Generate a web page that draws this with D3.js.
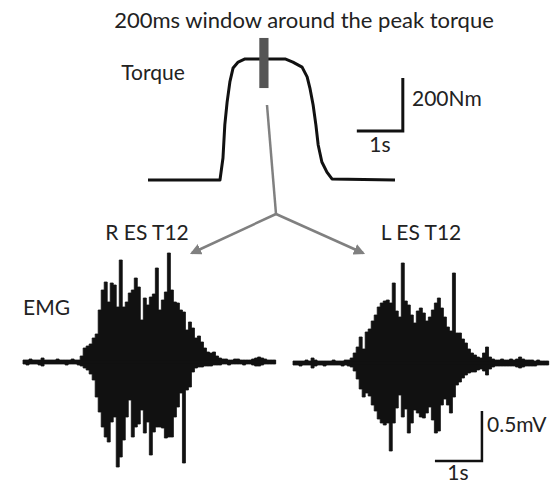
<!DOCTYPE html>
<html>
<head>
<meta charset="utf-8">
<script src="https://cdn.jsdelivr.net/npm/d3@7"></script>
<style>
  body { margin: 0; background: #fff; }
  text { font-family: Lato, "Open Sans", sans-serif; fill: #222; }
</style>
</head>
<body>
<div id="chart"></div>
<script>
// torque trace (time in s, torque in Nm)
var torqueTime = [0, 1.565, 1.63, 1.67, 1.72, 1.78, 1.85, 1.96, 2.11, 2.65, 2.98, 3.15, 3.35, 3.46, 3.52, 3.59, 3.65, 3.70, 3.78, 3.89, 4.00, 5.37];
var torqueNm   = [0, 0, 83, 208, 294, 370, 423, 445, 457, 457, 457, 445, 426, 389, 347, 283, 208, 132, 68, 30, 4, 0];
// 200ms window around the peak
var windowCenter = 2.52;
var windowLength = 0.2;

// EMG envelopes, mV, one value per sample
var emgDt = 0.064;
var rUpper = [0.02,0.02,0.03,0.02,0.02,0.02,0.04,0.02,0.02,0.02,0.02,0.03,0.02,0.02,0.02,0.02,0.03,0.02,0.02,0.06,
              0.14,0.16,0.18,0.24,0.28,0.52,0.72,0.80,0.60,0.79,
              0.77,0.55,1.02,0.55,0.60,0.69,0.72,0.84,0.75,0.42,
              0.64,0.57,0.65,0.68,0.94,0.52,0.62,0.70,1.09,0.72,
              0.60,0.59,0.52,0.50,0.32,0.40,0.34,0.24,0.26,0.20,
              0.14,0.10,0.09,0.10,0.06,0.04,0.03,0.03,0.02,0.02,
              0.03,0.03,0.02,0.02,0.02,0.02,0.03,0.04,0.05,0.04,
              0.03,0.02,0.02,0.02];
var rLower = [0.02,0.03,0.02,0.02,0.02,0.03,0.04,0.02,0.02,0.02,0.02,0.02,0.02,0.02,0.03,0.02,0.02,0.02,0.03,0.04,
              0.06,0.08,0.12,0.18,0.35,0.50,0.65,0.75,0.80,0.60,
              0.55,1.05,0.95,0.78,0.55,0.38,0.75,0.65,0.62,0.48,
              0.71,0.60,0.93,0.70,0.65,0.65,0.66,0.76,0.75,0.75,
              0.55,0.45,0.31,1.01,0.28,0.25,0.10,0.06,0.05,0.05,
              0.04,0.04,0.04,0.03,0.03,0.03,0.02,0.02,0.03,0.02,
              0.02,0.02,0.02,0.03,0.02,0.02,0.03,0.04,0.04,0.03,
              0.02,0.02,0.02,0.02];
var lUpper = [0.02,0.02,0.02,0.02,0.03,0.02,0.05,0.03,0.02,0.02,0.02,0.02,0.02,0.03,0.02,0.02,0.02,0.03,0.03,0.05,
              0.10,0.16,0.26,0.14,0.31,0.34,0.42,0.48,0.56,0.60,
              0.62,0.63,0.60,0.80,0.52,0.46,1.00,0.62,0.58,0.48,
              0.40,0.52,0.55,0.50,0.42,0.46,0.53,0.60,0.65,0.55,
              0.46,0.36,0.32,0.90,0.30,0.30,0.24,0.20,0.14,0.10,
              0.08,0.06,0.05,0.10,0.16,0.06,0.04,0.03,0.03,0.04,
              0.03,0.03,0.04,0.03,0.04,0.06,0.04,0.03,0.03,0.03,
              0.02,0.03,0.02,0.02,0.02];
var lLower = [0.02,0.02,0.03,0.02,0.02,0.02,0.05,0.03,0.02,0.02,0.03,0.02,0.02,0.02,0.02,0.02,0.03,0.02,0.03,0.04,
              0.08,0.16,0.26,0.34,0.30,0.33,0.42,0.48,0.56,0.60,
              0.62,0.60,0.88,0.60,0.45,0.32,0.54,0.46,0.70,0.60,
              0.47,0.50,0.54,0.55,0.50,0.44,0.57,0.70,0.68,0.42,
              0.36,0.42,0.50,0.34,0.22,0.19,0.15,0.12,0.10,0.09,
              0.09,0.07,0.06,0.08,0.12,0.06,0.04,0.03,0.03,0.03,
              0.03,0.03,0.03,0.03,0.04,0.05,0.04,0.03,0.03,0.03,
              0.03,0.02,0.02,0.02,0.02];

var w = 551, h = 484;
var ink = "#111", grey = "#808080";

var svg = d3.select("#chart").append("svg")
            .attr("width", w)
            .attr("height", h);

// ---- torque ----
var xT = d3.scaleLinear().domain([0, 5.37]).range([148, 395]);
var yT = d3.scaleLinear().domain([0, 200]).range([180, 127]);

var torqueLine = d3.line()
                   .x(function(d) { return xT(d[0]); })
                   .y(function(d) { return yT(d[1]); });

svg.append("path")
   .datum(d3.zip(torqueTime, torqueNm))
   .attr("d", torqueLine)
   .attr("fill", "none")
   .attr("stroke", ink)
   .attr("stroke-width", 3)
   .attr("stroke-linejoin", "round");

svg.append("rect")
   .attr("x", xT(windowCenter - windowLength / 2))
   .attr("width", xT(windowLength) - xT(0))
   .attr("y", yT(536))
   .attr("height", yT(347) - yT(536))
   .attr("fill", "#555");

// torque scale bar: 1s x 200Nm
var tbT = 5.54, tbN = 185;
svg.append("path")
   .attr("d", "M" + xT(tbT - 1) + "," + yT(tbN) + "H" + xT(tbT) + "V" + yT(tbN + 200))
   .attr("fill", "none")
   .attr("stroke", ink)
   .attr("stroke-width", 3);

// ---- arrows ----
var defs = svg.append("defs");
defs.append("marker")
    .attr("id", "head")
    .attr("viewBox", "0 0 10 10")
    .attr("refX", 8).attr("refY", 5)
    .attr("markerWidth", 4.5).attr("markerHeight", 4.5)
    .attr("markerUnits", "strokeWidth")
    .attr("orient", "auto")
    .append("path")
    .attr("d", "M0,0L10,5L0,10z")
    .attr("fill", grey);

var junction = [276, 214];
svg.append("line")
   .attr("x1", 267).attr("y1", 105)
   .attr("x2", junction[0]).attr("y2", junction[1])
   .attr("stroke", grey).attr("stroke-width", 2.5);
[[192, 253], [363, 253]].forEach(function(p) {
  svg.append("line")
     .attr("x1", junction[0]).attr("y1", junction[1])
     .attr("x2", p[0]).attr("y2", p[1])
     .attr("stroke", grey).attr("stroke-width", 2.5)
     .attr("marker-end", "url(#head)");
});

// ---- EMG ----
var yE = d3.scaleLinear().domain([-1, 1]).range([462, 262]);

function drawEmg(upper, lower, x0, baseY) {
  var n = upper.length;
  var xE = d3.scaleLinear().domain([0, 1]).range([x0, x0 + 47]);
  var yOff = baseY - yE(0);
  var g = svg.append("g").attr("transform", "translate(0," + yOff + ")");
  // repeat the last sample so the step curve closes
  var idx = d3.range(n + 1);
  var area = d3.area()
               .curve(d3.curveStepAfter)
               .x(function(i) { return xE(i * emgDt); })
               .y0(function(i) { return yE(-lower[Math.min(i, n - 1)]); })
               .y1(function(i) { return yE(upper[Math.min(i, n - 1)]); });
  g.append("path")
   .datum(idx)
   .attr("d", area)
   .attr("fill", ink)
   .attr("stroke", ink)
   .attr("stroke-width", 0.8);
  g.append("line")
   .attr("x1", xE(0)).attr("x2", xE(n * emgDt))
   .attr("y1", yE(0)).attr("y2", yE(0))
   .attr("stroke", ink).attr("stroke-width", 3);
  return { x: xE, yOff: yOff };
}

drawEmg(rUpper, rLower, 23, 362);
var right = drawEmg(lUpper, lLower, 293, 363);

// EMG scale bar: 1s x 0.5mV
var ebT = 4.02, ebV = -0.98;
svg.append("path")
   .attr("d", "M" + right.x(ebT - 1) + "," + (yE(ebV) + right.yOff) +
              "H" + right.x(ebT) + "V" + (yE(ebV + 0.5) + right.yOff))
   .attr("fill", "none")
   .attr("stroke", ink)
   .attr("stroke-width", 2.5);

// ---- labels ----
function label(txt, x, y, size, anchor) {
  svg.append("text")
     .attr("x", x).attr("y", y)
     .attr("font-size", size)
     .attr("text-anchor", anchor || "start")
     .text(txt);
}
label("200ms window around the peak torque", 304, 28, 22, "middle");
label("Torque", 153, 80, 21, "middle");
label("200Nm", 412, 106, 21);
label("1s", 380, 152, 21, "middle");
label("R ES T12", 147, 240, 21, "middle");
label("L ES T12", 421, 240, 21, "middle");
label("EMG", 23, 315, 21);
label("0.5mV", 487, 432, 21);
label("1s", 458, 480, 21, "middle");
</script>
</body>
</html>
